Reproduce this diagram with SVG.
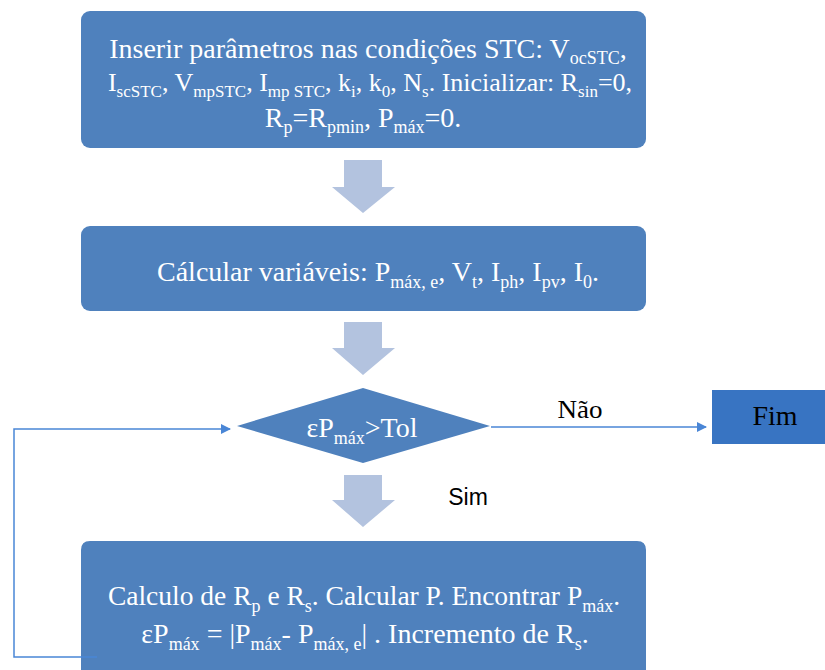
<svg xmlns="http://www.w3.org/2000/svg" width="825" height="670" viewBox="0 0 825 670">
<style>
.box{fill:#4F81BD;}
.t{font-family:"Liberation Serif","Times New Roman",serif;font-size:28px;fill:#fff;text-anchor:middle;}
.s{font-size:18px;}
.blk{font-family:"Liberation Serif","Times New Roman",serif;fill:#000;text-anchor:middle;}
.bigarrow{fill:#B3C3DF;}
.conn{fill:none;stroke:#4A86D6;stroke-width:1.5;}
</style>
<defs>
<marker id="ah" markerWidth="10" markerHeight="10" refX="9" refY="5" orient="auto" markerUnits="userSpaceOnUse" viewBox="0 0 10 10">
<path d="M0,0 L10,5 L0,10 z" fill="#4A86D6"/>
</marker>
</defs>
<rect width="825" height="670" fill="#fff"/>
<g id="n1">
<rect class="box" x="81" y="11" width="565" height="137" rx="9"/>
<text class="t" x="368" y="58">Inserir parâmetros nas condições STC: V<tspan class="s" dy="6">ocSTC</tspan><tspan dy="-6">,</tspan></text>
<text class="t" x="370" y="91" style="font-size:26px">I<tspan style="font-size:17px" dy="6">scSTC</tspan><tspan dy="-6">, V</tspan><tspan style="font-size:17px" dy="6">mpSTC</tspan><tspan dy="-6">, I</tspan><tspan style="font-size:17px" dy="6">mp STC</tspan><tspan dy="-6">, k</tspan><tspan style="font-size:17px" dy="6">i</tspan><tspan dy="-6">, k</tspan><tspan style="font-size:17px" dy="6">0</tspan><tspan dy="-6">, N</tspan><tspan style="font-size:17px" dy="6">s</tspan><tspan dy="-6">. Inicializar: R</tspan><tspan style="font-size:17px" dy="6">sin</tspan><tspan dy="-6">=0,</tspan></text>
<text class="t" x="363" y="127">R<tspan class="s" dy="6">p</tspan><tspan dy="-6">=R</tspan><tspan class="s" dy="6">pmin</tspan><tspan dy="-6">, P</tspan><tspan class="s" dy="6">máx</tspan><tspan dy="-6">=0.</tspan></text>
</g>
<g id="a1"><path class="bigarrow" d="M344,160 H382 V187 H395 L363,213 L332,187 H344 Z"/></g>
<g id="n2">
<rect class="box" x="81" y="226" width="565" height="85" rx="9"/>
<text class="t" x="378" y="281">Cálcular variáveis: P<tspan class="s" dy="7">máx, e</tspan><tspan dy="-7">, V</tspan><tspan class="s" dy="7">t</tspan><tspan dy="-7">, I</tspan><tspan class="s" dy="7">ph</tspan><tspan dy="-7">, I</tspan><tspan class="s" dy="7">pv</tspan><tspan dy="-7">, I</tspan><tspan class="s" dy="7">0</tspan><tspan dy="-7">.</tspan></text>
</g>
<g id="a2"><path class="bigarrow" d="M344,322 H382 V348 H395 L363,375 L332,348 H344 Z"/></g>
<g id="n3">
<path class="box" d="M363,388 L490,426 L363,463 L237,426 Z"/>
<text class="t" x="362" y="437">εP<tspan class="s" dy="7">máx</tspan><tspan dy="-7">&gt;Tol</tspan></text>
</g>
<g id="n4">
<rect x="712" y="390" width="113" height="54" fill="#3874C2"/>
<text class="blk" x="775" y="425" font-size="27" textLength="45" lengthAdjust="spacingAndGlyphs">Fim</text>
</g>
<g id="a3"><path class="bigarrow" d="M344,475 H382 V500 H395 L363,527 L332,500 H344 Z"/></g>
<g id="n5">
<path class="box" d="M90,541 H637 Q646,541 646,550 V670 H81 V550 Q81,541 90,541 Z"/>
<text class="t" x="364" y="605" style="font-size:27.5px">Calculo de R<tspan class="s" dy="7">p</tspan><tspan dy="-7"> e R</tspan><tspan class="s" dy="7">s</tspan><tspan dy="-7">. Calcular P. Encontrar P</tspan><tspan class="s" dy="7">máx</tspan><tspan dy="-7">.</tspan></text>
<text class="t" x="365" y="643">εP<tspan class="s" dy="7">máx</tspan><tspan dy="-7"> = |P</tspan><tspan class="s" dy="7">máx</tspan><tspan dy="-7">- P</tspan><tspan class="s" dy="7">máx, e</tspan><tspan dy="-7">| . Incremento de R</tspan><tspan class="s" dy="7">s</tspan><tspan dy="-7">.</tspan></text>
</g>
<g id="connectors">
<path class="conn" d="M491,427 H706" marker-end="url(#ah)"/>
<path class="conn" d="M97,657 H14 V429 H230" marker-end="url(#ah)"/>
<text class="blk" x="580" y="418" font-size="26" textLength="45" lengthAdjust="spacingAndGlyphs">Não</text>
<text x="468" y="505" text-anchor="middle" style="font-family:'Liberation Sans',Arial,sans-serif;font-size:23px;fill:#000;">Sim</text>
</g>
</svg>
